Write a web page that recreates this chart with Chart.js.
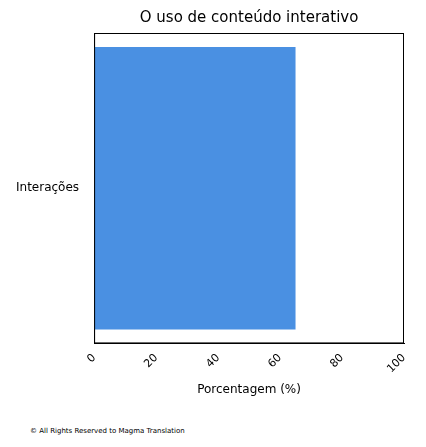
<!DOCTYPE html>
<html>
<head>
<meta charset="utf-8">
<script src="https://cdn.jsdelivr.net/npm/chart.js@4"></script>
<style>
  html, body { margin: 0; padding: 0; background: #fff; }
  #wrap { position: relative; width: 426px; height: 447px; }
  #footer { position: absolute; left: 30px; top: 427px; font: 7px 'DejaVu Sans', sans-serif; color: #000; }
</style>
</head>
<body>
<div id="wrap">
  <canvas id="chart" width="426" height="401"></canvas>
  <div id="footer">© All Rights Reserved to Magma Translation</div>
</div>
<script>
var categories = ['Interações'];
var values = [65];
var xTicks = [0, 20, 40, 60, 80, 100];
var chartTitle = 'O uso de conteúdo interativo';

// frame around the plot area + title centred over it
var frame = {
  id: 'frame',
  afterDraw: function (c) {
    var a = c.chartArea, ctx = c.ctx;
    ctx.save();
    ctx.strokeStyle = '#000';
    ctx.lineWidth = 1;
    ctx.strokeRect(a.left + 0.5, a.top + 0.5, a.right - a.left - 1, a.bottom - a.top - 1);
    ctx.fillStyle = '#000';
    ctx.font = "15px 'DejaVu Sans', sans-serif";
    ctx.textAlign = 'center';
    ctx.textBaseline = 'middle';
    ctx.fillText(chartTitle, (a.left + a.right) / 2, 18);
    ctx.restore();
  }
};

Chart.defaults.font.family = "'DejaVu Sans', sans-serif";
Chart.defaults.color = '#000';

new Chart(document.getElementById('chart'), {
  type: 'bar',
  data: {
    labels: categories,
    datasets: [{ data: values, backgroundColor: '#4a90e2', barPercentage: 0.91, categoryPercentage: 1 }]
  },
  options: {
    indexAxis: 'y',
    responsive: false,
    animation: false,
    layout: { padding: { left: 6, right: 22, top: 33, bottom: 0 } },
    plugins: {
      legend: { display: false },
      tooltip: { enabled: false },
      title: { display: false }
    },
    scales: {
      x: {
        min: 0, max: 100,
        afterBuildTicks: function (s) { s.ticks = xTicks.map(function (v) { return { value: v }; }); },
        grid: { display: false, drawTicks: true, tickLength: 5, tickColor: '#000' },
        border: { color: '#000' },
        ticks: { minRotation: 45, maxRotation: 45, font: { size: 11 } },
        title: { display: true, text: 'Porcentagem (%)', font: { size: 12 } }
      },
      y: {
        grid: { display: false, drawTicks: true, tickLength: 5, tickColor: '#000' },
        border: { color: '#000' },
        ticks: { font: { size: 12 }, padding: 10 }
      }
    }
  },
  plugins: [frame]
});
</script>
</body>
</html>
